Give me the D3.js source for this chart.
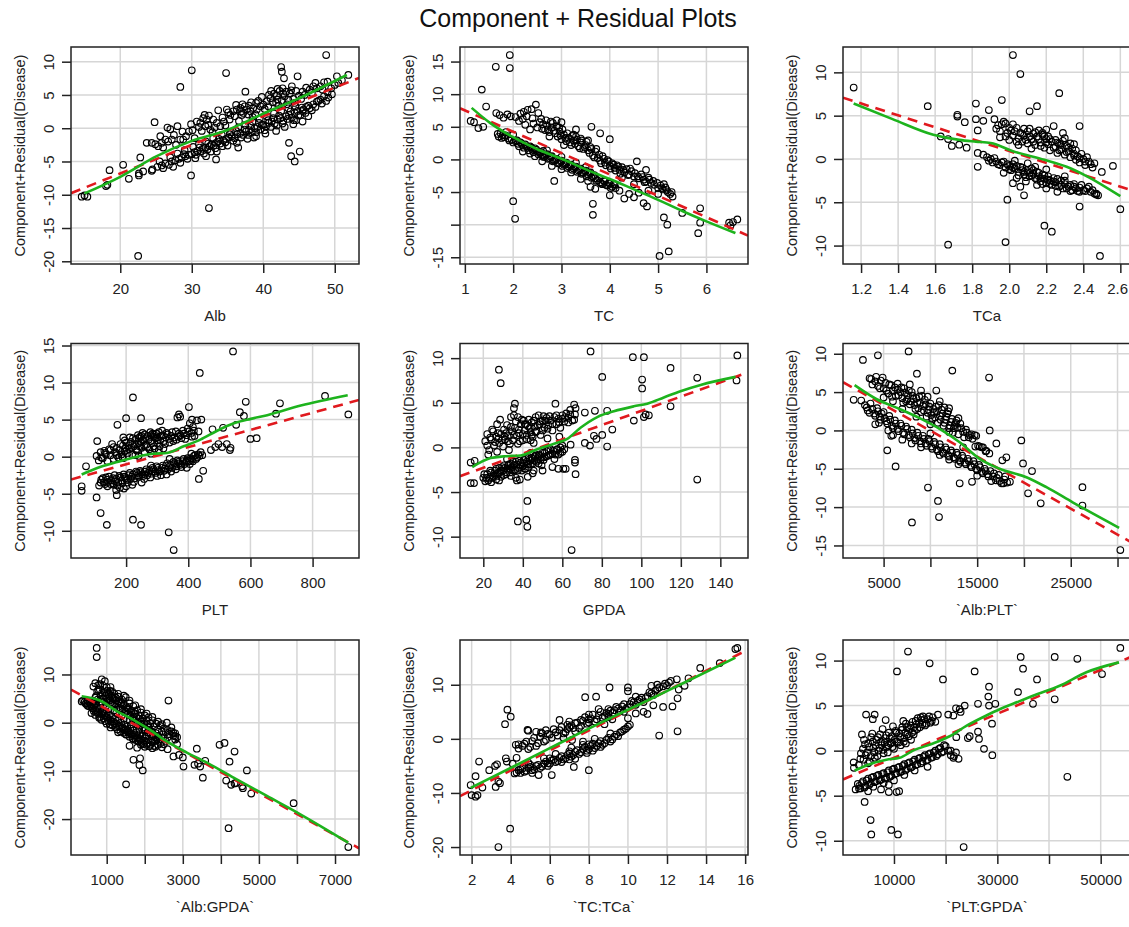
<!DOCTYPE html>
<html><head><meta charset="utf-8">
<script src="https://cdn.jsdelivr.net/npm/d3@7/dist/d3.min.js"></script>
<style>body{margin:0;background:#fff}svg{display:block}text{font-family:"Liberation Sans",Arial,sans-serif;fill:#222}</style>
</head><body>
<svg id="c" width="1129" height="927"></svg>
<script>
// ---------------- DATA ----------------
const titles = ["Alb","TC","TCa","PLT","GPDA","`Alb:PLT`","`Alb:GPDA`","`TC:TCa`","`PLT:GPDA`"];

const albPts = [[14.6,-10.3],[15.0,-10.1],[15.4,-10.3],[18.0,-8.7],[18.2,-8.5],[18.5,-6.3],[20.4,-5.5],[21.2,-7.6],[22.6,-7.1],[22.6,-6.8],[23.2,-6.5],[22.8,-4.4],[22.5,-19.2],[23.7,-2.2],[24.8,0.9],[24.4,-6.4],[28.4,6.2],[30.0,8.7],[34.8,8.3],[29.9,-7.1],[32.4,-12.0],[33.4,-4.7],[43.6,-2.2],[43.9,-4.2],[44.4,-5.0],[45.1,-3.5],[42.5,9.2],[42.6,8.5],[42.9,7.5],[44.8,7.8],[48.8,11.0],[51.9,8.0],[50.3,7.8],[49.1,4.6],[47.7,4.1],[46.3,3.4],[37.5,5.5],[34.9,2.8],[33.7,2.7],
[24.4,-2.2],[24.9,-2.4],[25.3,-2.7],[25.8,-2.2],[26.3,-1.7],[26.7,-2.0],[27.2,-1.7],[26.6,0.1],[27.0,-0.15],[27.8,-2.5],[28.4,-1.7],[28.7,-0.5],[28.8,-1.7],
[30.7,1.0],[31.2,0.8],[31.6,1.5],[31.9,0.3],[32.1,1.3],[32.3,0.5],[32.6,-0.2],[33.0,1.3],[33.5,0.8],[34.0,0.3],
[35.8,2.55],[36.3,2.8],[36.8,3.05],[37.2,2.3],[37.7,2.8],[37.9,2.05],[38.2,2.55],[38.6,3.05],[39.1,2.8],[39.6,3.3],[40.0,3.55],[40.5,4.06],
[41.0,4.5],[41.5,5.2],[41.8,3.8],[42.0,4.3],[42.3,5.6],[42.6,4.1],[43.0,4.8],[43.3,3.6],[43.7,5.2],[44.2,4.4],[44.6,5.6],[45.0,4.9],[45.5,5.5],[46.0,6.1],[46.5,5.8],[47.0,6.3],[47.5,6.0],[48.0,6.3],[48.5,6.9],[49.0,7.0],
[29.6,-0.5],[30.1,-0.3],[31.0,0.2],[32.9,-0.6],[34.5,1.0],[35.3,1.3],[36.0,1.8],[37.0,2.0],[38.5,1.7],[39.0,3.8],[39.8,4.7],[40.8,5.0],[42.0,5.9],[43.2,5.5],[44.0,6.3],[35.4,2.0],[36.2,3.5],[37.4,3.3],
[25.6,-1.2],[26.0,-2.9],[27.5,-1.0],[28.0,0.3],[29.2,-1.2],[29.9,0.6],[30.4,-1.5],[31.4,-0.4],[31.8,2.0],[32.4,1.9],[33.2,0.1],[34.3,1.6],[34.7,0.4],[35.1,2.4],[36.6,1.1],[37.1,3.6],[38.0,3.4],[38.9,2.1],[39.3,4.1],[40.2,2.9],[40.7,3.3],[41.3,3.9],[41.9,4.9],[42.2,3.4],[42.8,5.2],[43.5,4.3],[43.9,5.7],[44.4,3.8],[45.3,4.4],[45.8,5.0],[46.8,5.3],[47.3,6.8],[48.3,5.8],[36.9,2.5],[38.3,3.9],[41.1,5.6],[42.7,6.0],
[24.5,-6.2],[25.2,-5.8],[25.8,-5.6],[26.3,-5.3],[26.8,-5.5],[27.2,-5.0],[27.7,-4.8],[28.2,-4.6],[28.6,-4.4],[29.1,-4.2],[29.6,-4.0],[30.0,-3.9],[30.4,-3.6],[30.8,-3.4],[31.2,-3.5],[31.5,-3.1],[31.9,-2.9],[32.2,-3.2],[32.5,-2.7],[32.8,-2.4],[33.1,-2.6],[33.4,-2.2],[33.7,-2.0],[34.0,-2.3],[34.4,-1.8],[34.8,-1.6],[35.2,-1.4],[35.6,-1.2],[36.0,-1.5],[36.4,-0.9],[36.8,-0.7],[37.2,-1.0],[37.6,-0.5],[38.0,-0.3],[38.4,-0.6],[38.8,0.0],[39.2,0.2],[39.6,-0.2],[40.0,0.5],[40.4,0.3],[40.8,0.8],[41.2,1.0],[41.6,0.7],[42.0,1.3],[42.4,1.5],[42.8,1.1],[43.2,1.8],[43.6,2.0],[44.0,1.6],[44.4,2.3],[44.8,2.6],[45.2,2.0],[45.6,2.8],[46.0,3.2],[46.5,3.0],[47.0,3.6],[47.5,4.0],[48.0,4.3],[48.5,4.8],[49.0,5.4],[49.5,6.0],[50.0,6.5],[50.5,6.8],[51.0,7.2],
[28.0,-3.8],[29.0,-3.3],[30.2,-2.8],[31.0,-2.4],[32.0,-2.0],[33.0,-1.5],[34.2,-1.0],[35.5,-0.6],[36.5,0.1],[37.5,0.5],[38.5,1.0],[39.5,1.4],[40.5,1.8],[41.5,2.2],[42.5,2.6],[43.5,3.0],[44.5,3.3],[30.5,-4.5],[32.0,-4.2],[33.5,-3.5],[35.0,-2.6],[36.3,-2.2],[37.8,-1.6],[39.0,-1.2],[40.3,-0.8],[41.8,-0.4],[43.0,0.2],[44.2,0.6],[45.5,1.0],[36.5,-2.9],[38.7,-1.4],[44.6,1.2],[45.5,2.6],[46.3,1.8],
[25.5,-5.0],[26.0,-6.0],[27.0,-4.4],[27.4,-5.8],[28.4,-5.2],[28.9,-3.9],[29.4,-4.6],[30.6,-4.0],[31.1,-2.9],[31.7,-3.8],[32.3,-2.3],[32.7,-3.5],[33.3,-3.0],[33.8,-1.6],[34.3,-2.7],[34.7,-2.1],[35.3,-0.9],[35.8,-1.9],[36.2,-0.4],[36.9,-1.4],[37.4,-0.2],[37.9,-1.0],[38.2,0.4],[39.0,-0.6],[39.4,0.8],[39.8,0.5],[40.2,-0.3],[40.7,1.2],[41.1,0.2],[41.4,1.5],[41.9,0.4],[42.2,1.9],[42.7,0.7],[43.4,1.4],[43.8,2.5],[44.3,1.2],[44.9,1.9],[45.4,3.1],[45.9,2.3],[46.8,2.7],[47.3,3.2],[48.2,3.7],[48.8,4.1],[49.6,5.1]];

const tcPts = [[1.64,14.2],[1.93,16.0],[1.93,14.0],[1.35,10.7],[1.44,8.1],[1.12,5.9],[1.19,5.7],[1.28,4.8],[1.38,5.0],[2.0,-6.4],[2.04,-9.1],[2.85,-3.3],[3.65,-6.8],[3.65,-8.5],[3.62,5.0],[3.8,4.0],[4.0,3.1],[4.56,-0.3],[4.75,-1.6],[4.77,-7.2],[5.03,-14.8],[5.22,-14.1],[5.12,-8.9],[5.19,-10.0],[5.5,-8.2],[5.87,-9.7],[5.83,-11.3],[5.87,-7.5],[6.47,-9.7],[6.64,-9.2],[6.5,-10.1],[6.55,-9.6],
[1.65,7.1],[1.72,6.8],[1.8,6.4],[1.88,6.9],[1.95,6.6],[2.05,6.5],[2.15,7.0],[2.22,7.3],[2.3,7.6],[2.38,7.7],[2.47,8.4],[2.2,6.2],[2.25,5.3],[2.35,4.6],[2.42,5.5],[2.5,4.9],[2.55,5.7],[2.58,6.2],[2.62,5.4],[2.66,4.5],[2.7,5.2],[2.75,4.2],[2.8,4.9],[2.82,5.6],[2.87,4.0],[2.92,3.5],[2.96,4.3],[3.0,3.1],[3.05,3.8],[3.1,2.8],[3.15,3.3],[3.2,2.2],[3.25,2.9],[3.3,3.5],[3.35,2.0],[3.4,2.6],[3.45,1.6],[3.5,2.2],[3.55,1.4],[3.6,1.9],[3.65,0.6],[3.7,1.2],[3.75,0.2],[3.8,-0.2],[3.85,0.5],[3.9,-0.5],[3.95,-0.1],[4.0,-1.0],[4.05,-0.6],[4.1,-1.3],[4.15,-0.9],[4.2,-1.6],[4.25,-1.2],[4.3,-2.0],[4.35,-1.5],[4.4,-2.3],[4.45,-1.8],[4.5,-2.6],[4.6,-2.9],[4.65,-2.3],[4.7,-3.1],[4.75,-3.4],[4.8,-2.8],[4.85,-3.6],[4.9,-3.3],[5.0,-4.4],[5.05,-4.0],[5.1,-4.6],[5.15,-4.3],[5.2,-5.0],[5.25,-5.3],[5.3,-5.7],[3.3,4.6],[3.0,5.7],[2.9,6.0],[2.75,3.5],[3.05,2.2],[3.4,3.2],
[2.12,5.9],[2.28,6.6],[2.4,6.3],[2.52,7.1],[2.6,4.7],[2.68,6.0],[2.72,4.6],[2.78,5.8],[2.85,4.4],[2.9,5.1],[2.98,3.7],[3.02,4.6],[3.08,3.3],[3.12,4.0],[3.18,2.6],[3.22,3.6],[3.28,2.4],[3.32,3.0],[3.38,1.7],[3.42,2.9],[3.48,1.9],[3.52,2.7],[3.58,1.0],[3.62,1.6],[3.68,0.3],[3.72,1.6],[3.78,0.7],[3.82,-0.6],[3.88,0.1],[3.92,-0.9],[3.98,-0.3],[4.02,-1.4],[4.08,-0.8],[4.12,-1.7],[4.18,-1.1],[4.22,-2.2],[4.28,-1.6],[4.38,-2.4],[4.42,-1.4],[4.52,-2.1],[4.58,-2.6],[4.68,-2.7],[4.72,-3.5],[4.82,-3.1],[4.92,-3.9],[4.98,-3.6],[5.08,-4.4],[5.12,-3.8],[5.18,-4.7],[5.28,-5.0],[3.55,2.9],[3.25,3.8],[2.95,4.9],
[1.68,3.9],[1.74,4.0],[1.78,3.7],[1.82,3.4],[1.9,3.2],[1.97,3.0],[2.05,2.8],[2.1,2.4],[2.15,2.6],[2.2,2.1],[2.25,2.3],[2.3,1.8],[2.35,2.0],[2.4,1.5],[2.45,1.7],[2.5,1.2],[2.55,1.0],[2.6,0.7],[2.62,1.3],[2.65,0.4],[2.7,0.8],[2.75,0.2],[2.8,0.5],[2.85,-0.2],[2.9,0.1],[2.95,-0.5],[3.0,-0.2],[3.05,-0.8],[3.1,-0.5],[3.15,-1.1],[3.2,-0.8],[3.25,-1.4],[3.3,-1.1],[3.35,-1.7],[3.4,-1.4],[3.45,-2.0],[3.5,-1.7],[3.55,-2.3],[3.6,-2.0],[3.65,-2.6],[3.7,-2.9],[3.75,-3.2],[3.8,-3.5],[3.85,-3.8],[3.9,-3.4],[3.95,-4.0],[4.0,-3.7],[4.05,-4.2],[4.1,-3.9],[3.6,-4.2],[3.7,-4.5],[4.0,-5.5],[4.2,-4.8],[4.4,-5.3],[4.5,-5.8],[4.6,-5.1],[4.7,-6.7],[4.3,-6.0],[2.45,0.5],[2.6,-0.3],[2.8,-1.0],[3.0,-1.5],[3.2,-2.0],[3.4,-3.0],[3.55,-3.3],[2.2,1.2],[2.35,0.9],[1.85,4.2],[2.0,3.8],[4.25,-2.8],[4.5,-3.8],[4.8,-4.8],[5.0,-5.3],
[1.7,3.5],[1.76,3.3],[1.84,3.7],[1.92,2.9],[2.0,2.6],[2.08,2.9],[2.12,2.0],[2.18,2.4],[2.22,1.8],[2.28,2.0],[2.32,1.4],[2.38,1.8],[2.42,1.1],[2.48,1.5],[2.52,0.8],[2.58,1.1],[2.62,0.4],[2.68,0.7],[2.72,0.1],[2.78,0.4],[2.82,-0.3],[2.88,0.0],[2.92,-0.6],[2.98,-0.3],[3.02,-1.0],[3.08,-0.7],[3.12,-1.3],[3.18,-0.9],[3.22,-1.6],[3.28,-1.2],[3.32,-1.9],[3.38,-1.6],[3.42,-2.2],[3.48,-1.8],[3.52,-2.6],[3.58,-2.1],[3.62,-2.8],[3.68,-2.4],[3.72,-3.3],[3.78,-2.9],[3.82,-3.7],[3.88,-3.3],[3.92,-3.9],[3.98,-3.6],[4.02,-4.4],[4.08,-3.8],[4.12,-4.4],[3.5,-1.2],[3.3,-0.5],[3.0,0.4],[2.7,1.4]];

const tcaPts = [[1.16,8.25],[1.56,6.1],[1.63,2.6],[1.67,2.3],[1.69,1.5],[1.72,4.9],[1.72,5.1],[1.76,4.25],[1.73,1.65],[1.77,1.3],[1.67,-9.9],[1.82,6.4],[1.82,4.6],[1.83,3.3],[1.83,0.7],[1.83,-0.9],[1.86,4.4],[1.89,5.65],[1.96,6.8],[2.02,12.0],[2.06,9.8],[1.98,-9.6],[1.99,-4.7],[2.02,-2.8],[2.08,-4.2],[2.11,5.5],[2.15,6.1],[2.19,-7.7],[2.23,-8.4],[2.27,7.6],[2.38,-5.5],[2.38,3.8],[2.49,-11.2],[2.5,-1.5],[2.56,-0.8],[2.6,-5.8],[2.47,-4.0],[2.48,-4.2],[1.98,4.1],[2.02,4.0],[2.2,3.4],[2.24,3.8],[2.29,3.0],
[1.92,4.6],[1.94,3.9],[1.95,3.2],[1.97,4.3],[1.99,3.0],[2.0,3.6],[2.02,2.7],[2.03,3.2],[2.05,2.4],[2.06,3.0],[2.07,2.0],[2.08,2.7],[2.1,1.8],[2.1,3.2],[2.12,2.3],[2.13,2.9],[2.14,1.6],[2.15,2.6],[2.17,1.9],[2.18,2.8],[2.19,1.3],[2.2,2.3],[2.21,1.7],[2.22,1.0],[2.23,2.0],[2.25,1.4],[2.26,0.7],[2.27,1.8],[2.28,1.1],[2.3,0.5],[2.31,1.5],[2.32,0.9],[2.33,0.2],[2.34,1.2],[2.35,0.6],[2.36,-0.1],[2.37,0.3],[2.38,-0.4],[2.4,0.0],[2.41,-0.7],[2.43,-0.3],[2.45,-1.0],[2.46,-0.5],[1.95,2.5],[2.0,2.2],[2.05,1.6],[2.08,3.5],[2.16,3.3],[2.3,2.4],[2.35,1.7],[2.12,1.2],
[1.93,3.5],[1.96,4.0],[1.98,2.6],[2.01,3.3],[2.04,3.6],[2.04,2.0],[2.07,2.9],[2.09,2.2],[2.11,2.6],[2.11,3.5],[2.13,2.0],[2.14,3.1],[2.16,2.3],[2.17,1.5],[2.19,2.6],[2.2,1.9],[2.22,2.3],[2.24,1.3],[2.25,2.2],[2.27,1.0],[2.28,1.6],[2.29,2.1],[2.31,0.8],[2.32,1.3],[2.33,1.8],[2.35,0.4],[2.36,1.0],[2.38,0.1],[2.39,0.6],[2.41,-0.3],[2.42,0.2],[2.44,-0.6],[2.18,3.0],[2.21,2.6],[2.26,1.9],
[1.86,0.5],[1.88,0.2],[1.9,0.0],[1.91,-0.4],[1.93,-0.3],[1.95,-0.7],[1.96,-0.4],[1.98,-1.0],[2.0,-0.8],[2.01,-1.3],[2.02,-0.6],[2.03,-1.1],[2.05,-1.5],[2.06,-0.9],[2.07,-1.3],[2.08,-1.8],[2.1,-1.4],[2.11,-2.0],[2.12,-1.1],[2.13,-1.7],[2.14,-2.2],[2.15,-1.5],[2.16,-2.0],[2.17,-2.6],[2.18,-1.8],[2.19,-2.3],[2.2,-2.8],[2.21,-2.0],[2.22,-2.5],[2.23,-3.0],[2.24,-2.2],[2.25,-2.7],[2.27,-3.2],[2.28,-2.5],[2.3,-2.9],[2.31,-3.4],[2.33,-3.0],[2.34,-3.6],[2.35,-3.2],[2.37,-3.7],[2.38,-3.3],[2.4,-3.6],[2.42,-3.4],[2.44,-3.8],[2.46,-4.0],[1.97,-1.6],[2.04,-2.2],[2.09,-2.6],[2.15,-3.0],[2.2,-3.4],[2.26,-3.8],[2.06,-3.2],[2.1,-0.5],[2.2,-1.2],[2.3,-2.0],
[1.89,-0.2],[1.92,0.1],[1.94,-0.6],[1.97,-0.3],[1.99,-0.6],[2.0,-1.2],[2.02,-1.0],[2.04,-0.8],[2.05,-1.9],[2.07,-1.0],[2.08,-1.5],[2.09,-2.1],[2.11,-1.6],[2.12,-1.9],[2.13,-1.3],[2.15,-2.4],[2.16,-1.6],[2.17,-2.2],[2.18,-2.9],[2.19,-1.9],[2.21,-2.4],[2.22,-2.9],[2.24,-2.6],[2.25,-3.1],[2.26,-2.3],[2.28,-3.0],[2.29,-3.4],[2.3,-2.5],[2.32,-3.2],[2.33,-3.7],[2.35,-2.9],[2.36,-3.4],[2.38,-3.8],[2.39,-3.0],[2.41,-3.7],[2.43,-3.2],[2.45,-3.6],[2.47,-4.1],[2.03,-0.2],[2.14,-0.9]];

const pltPts = [[57,-4.0],[57,-4.6],[71,-1.3],[105,-5.5],[107,2.1],[118,-7.6],[138,-9.2],[172,4.3],[170,-5.2],[168,-4.5],[200,5.2],[193,-4.3],[191,2.6],[222,8.0],[222,-8.5],[248,5.2],[248,-9.2],[337,-10.2],[353,-12.6],[310,4.8],[374,5.4],[402,6.7],[437,11.3],[544,14.2],[412,5.0],[442,5.0],[434,-3.0],[448,-1.9],[412,2.7],[478,3.7],[512,3.9],[536,1.2],[534,0.9],[554,4.3],[566,6.0],[579,5.5],[585,7.4],[600,2.4],[620,2.5],[695,7.2],[682,5.8],[840,8.2],[915,5.7],[473,0.9],[487,1.3],[497,1.7],[509,1.3],[524,1.7],
[105,0.1],[112,-0.5],[118,0.6],[125,-0.2],[130,0.8],[135,0.3],[140,-0.6],[145,1.0],[150,0.2],[155,1.7],[160,-0.3],[165,0.6],[170,1.2],[175,-0.1],[180,0.9],[185,0.3],[190,1.5],[195,0.7],[198,1.2],[205,0.5],[210,1.0],[215,2.0],[220,0.3],[225,1.4],[230,2.3],[235,0.8],[240,1.8],[245,2.7],[250,1.2],[255,2.2],[260,0.6],[265,1.6],[270,2.8],[275,1.0],[280,2.1],[285,3.1],[290,1.4],[295,2.5],[300,1.8],[305,3.3],[310,2.2],[318,2.9],[325,1.7],[330,3.2],[338,2.4],[345,2.8],[352,2.1],[360,3.4],[368,2.7],[375,2.9],[383,3.5],[390,2.4],[398,3.8],[405,4.5],[410,3.2],[415,4.0],[420,2.8],[428,4.9],[433,3.4],[250,2.8],[240,2.5],[260,3.0],[280,2.9],[300,2.6],[200,1.9],[230,0.2],[280,0.4],[305,0.9],[240,0.1],[190,-0.2],[365,5.3],[370,5.7],[290,3.0],[320,1.1],
[182,1.7],[188,0.0],[196,2.2],[202,0.9],[208,1.5],[212,2.6],[218,1.2],[222,2.5],[228,1.7],[233,1.0],[238,2.9],[243,1.4],[248,2.0],[253,3.2],[258,1.5],[262,2.5],[268,1.3],[272,2.3],[278,3.3],[283,1.8],[288,2.7],[292,1.1],[298,3.1],[302,2.2],[308,1.4],[312,2.8],[316,3.5],[322,2.1],[328,2.6],[334,3.0],[340,1.9],[348,3.3],[355,2.6],[362,2.3],[370,3.1],[378,2.5],[386,3.1],[394,2.9],[402,3.4],[418,3.5],[150,0.9],[160,1.3],[170,0.2],[120,-0.1],[133,0.5],
[113,-3.9],[120,-3.1],[128,-3.5],[135,-2.8],[142,-3.4],[150,-3.7],[158,-2.9],[165,-3.3],[172,-3.9],[178,-2.6],[185,-3.2],[192,-2.4],[198,-2.9],[205,-3.5],[212,-2.2],[218,-2.7],[225,-3.4],[232,-2.0],[238,-2.5],[245,-1.9],[252,-2.4],[258,-3.0],[265,-1.7],[272,-2.2],[278,-2.8],[285,-1.5],[292,-2.0],[298,-1.3],[305,-1.8],[312,-2.5],[318,-1.2],[325,-1.6],[332,-0.9],[338,-1.4],[345,-2.0],[352,-0.7],[358,-1.1],[365,-0.5],[372,-0.9],[378,-1.4],[385,-0.3],[392,-0.7],[398,-0.2],[405,-1.0],[412,-0.4],[418,0.1],[425,-0.3],[432,0.3],[440,0.6],[445,0.2],[180,-4.2],[200,-4.0],[220,-3.8],[260,-2.0],[300,-2.6],[340,-0.3],[360,-1.7],[395,-1.5],[410,0.4],[140,-4.0],[160,-3.8],[250,-3.5],[280,-1.2],[330,-2.4],
[118,-3.5],[125,-2.9],[132,-3.7],[138,-3.1],[145,-2.7],[152,-3.2],[158,-3.6],[163,-2.5],[168,-3.0],[175,-3.5],[182,-2.8],[188,-3.6],[195,-2.7],[202,-3.1],[208,-2.5],[215,-3.0],[222,-2.4],[228,-2.9],[235,-2.2],[242,-2.7],[248,-2.1],[255,-2.6],[262,-2.0],[268,-2.5],[275,-1.8],[282,-2.3],[288,-1.7],[295,-2.2],[302,-1.5],[308,-2.0],[315,-1.5],[322,-1.9],[328,-1.2],[335,-1.7],[342,-1.1],[348,-1.5],[355,-0.9],[362,-1.3],[368,-0.7],[375,-1.1],[382,-0.6],[388,-1.0],[395,-0.5],[402,-0.6],[408,-0.2],[415,-0.6],[422,0.2],[428,-0.1],[436,0.1]];

const gpdaPts = [[13.6,-1.7],[15.6,-1.5],[13.6,-4.0],[15.3,-4.0],[27.9,8.7],[28.8,7.2],[35.5,4.4],[37.5,-8.3],[41.8,-8.1],[42.3,-8.9],[42.3,-6.0],[64.7,-11.5],[74.3,10.75],[80.2,7.9],[82.7,4.1],[82.7,0.1],[85.3,2.0],[95.7,10.1],[101.3,10.1],[100.4,7.6],[100.4,6.6],[96.2,3.0],[101.3,3.4],[102.2,3.7],[103.8,3.6],[114.8,8.9],[114.8,4.6],[128.3,7.8],[128.3,-3.6],[148.6,10.3],[148.2,7.5],[71.4,3.9],[76.5,4.1],[71.4,0.5],[74,0.2],[76,1.3],[77.3,0.95],[80.2,1.4],[66.7,4.4],[66.4,3.7],[65,3.0],[66.4,-1.4],[66.4,-1.7],[66.7,-3.0],[61.7,-2.4],[60.5,-2.4],[64.2,0.3],
[21,0.7],[22,1.5],[23,-0.3],[24,0.9],[25,1.8],[25.5,0.2],[26.5,1.2],[27,2.6],[28,0.5],[28.5,3.1],[29,1.5],[30,0.1],[30.5,2.0],[31,0.9],[32,2.5],[33,1.3],[33.5,0.4],[34,3.4],[34.5,1.8],[35,0.8],[36,2.2],[36,4.9],[37,1.3],[37.5,3.4],[38,2.0],[38.5,0.7],[39,2.6],[40,1.5],[40.5,3.0],[41,1.9],[42,0.9],[42.5,2.4],[43,3.1],[44,1.7],[44.5,2.8],[45,1.2],[46,2.3],[46.5,3.4],[47,1.8],[48,3.6],[48.5,2.6],[49,1.4],[50,3.0],[50.5,3.5],[51,2.2],[52,3.3],[53,2.5],[54,3.0],[55,1.9],[56,3.4],[56.5,4.9],[57,2.6],[58,3.2],[59,2.2],[60,3.6],[61,2.9],[62,3.8],[63,3.3],[64,4.2],[66,4.8],[66,3.1],[52.5,1.0],[45.5,0.5],[33,-0.3],[27,-0.5],[22.5,-0.8],[35.5,3.6],[41.5,2.6],[44,0.8],[58.5,1.2],
[22,0.2],[23.5,1.1],[24.5,2.0],[26,0.6],[27.5,1.6],[29.5,0.8],[31.5,1.6],[32.5,0.7],[34,2.3],[35.5,1.4],[36.5,2.9],[37.5,0.4],[38,1.6],[39.5,3.1],[40,0.8],[41,2.6],[42,1.4],[43.5,2.2],[44.5,1.4],[45.5,3.0],[46.5,1.7],[47.5,2.5],[49,2.9],[50,1.9],[51.5,3.0],[52.5,2.1],[53.5,3.5],[55,2.6],[57,3.6],[58.5,2.8],[60,3.2],[61.5,3.4],[63,2.8],[64,3.7],[30.8,1.2],[27.8,1.0],
[20,-3.4],[21,-3.8],[22,-3.0],[23,-3.5],[24,-2.8],[25,-3.2],[26,-2.6],[26.5,-3.6],[27.5,-2.9],[28,-2.3],[29,-3.3],[30,-2.6],[30.5,-2.0],[31.5,-3.0],[32,-2.4],[33,-1.9],[33.5,-2.8],[34.5,-2.2],[35,-1.6],[36,-2.5],[36.5,-3.4],[37,-1.9],[38,-2.3],[38.5,-3.6],[39,-1.7],[40,-2.1],[40.5,-1.4],[41.5,-2.4],[42,-1.6],[42.5,-3.3],[43,-1.1],[44,-1.9],[45,-1.3],[45.5,-2.6],[46,-1.0],[47,-1.6],[48,-0.8],[49,-1.4],[49.5,-2.0],[50,-0.6],[51,-1.1],[52,-0.4],[53,-0.9],[54,-0.2],[55,-0.7],[56,-1.3],[57,-0.3],[58,-0.8],[59,0.0],[60,-0.5],[61,-0.2],[55,-2.2],[58,-2.4],[37,-3.7],[24,-3.9],[28,-3.7],[34,-3.2],[45,-2.9],[50,-2.6],[32,-1.3],[44,-0.6],
[20.5,-3.0],[21.5,-3.4],[22.5,-3.7],[23.5,-2.6],[24.5,-3.4],[25.5,-2.9],[26.5,-2.4],[27,-3.2],[28,-2.8],[29,-2.6],[29.5,-2.2],[30.5,-3.1],[31,-2.3],[32,-2.8],[32.5,-2.0],[33.5,-2.4],[34,-1.8],[35,-2.6],[35.5,-2.0],[36.5,-1.6],[37.5,-2.6],[38,-1.5],[39,-2.2],[39.5,-2.6],[40.5,-1.8],[41,-2.4],[41.5,-1.3],[42.5,-1.9],[43,-2.2],[43.5,-1.5],[44.5,-1.2],[45,-1.8],[46,-1.5],[46.5,-0.9],[47.5,-1.3],[48,-1.8],[48.5,-0.9],[49.5,-1.1],[50.5,-1.4],[51,-0.6],[52,-1.0],[53,-0.3],[54,-0.8],[55.5,-0.4],[56.5,-0.8],[57.5,-0.2],[59,-0.6],[60,0.2]];

const albPltPts = [[1800,4.0],[2610,3.9],[2790,9.2],[4390,9.8],[3680,6.7],[4110,0.8],[5390,-2.6],[5820,-0.7],[6280,-4.7],[7670,10.3],[8560,7.4],[8030,-12.0],[9740,-7.45],[10810,-9.2],[10920,-11.3],[10630,5.2],[12340,7.8],[16270,6.9],[16340,0.0],[17050,-1.7],[18120,-3.5],[17690,-3.9],[19720,-1.3],[19900,-4.3],[20860,-5.3],[20440,-8.2],[21790,-9.5],[26250,-7.4],[26250,-9.8],[30300,-15.6],[13130,-6.9],[14450,-6.7],[15270,-2.1],[15620,-2.2],[15980,-2.65],[14730,-0.6],[14900,-0.7],
[3500,6.8],[3800,6.0],[4200,7.0],[4400,5.8],[4700,6.5],[5000,5.5],[5200,6.2],[5500,4.8],[5800,5.9],[6000,5.2],[6300,4.5],[6500,6.1],[6800,5.0],[7000,4.2],[7200,5.5],[7400,3.8],[7600,4.6],[7800,3.4],[8000,5.0],[8200,4.1],[8400,2.8],[8600,3.6],[8800,4.4],[9000,2.4],[9200,3.2],[9400,4.0],[9600,1.8],[9800,2.7],[10000,3.5],[10200,1.5],[10400,2.3],[10600,3.1],[10800,1.0],[11000,1.9],[11200,2.7],[11400,0.6],[11600,1.4],[11800,2.2],[12000,0.3],[12200,1.1],[12400,-0.3],[12600,0.7],[12800,1.3],[13000,-0.5],[13300,0.3],[13600,-0.9],[13900,-0.3],[14200,-0.6],[14500,-1.1],[14800,-2.1],[15100,-2.0],[15500,-2.2],[15900,-2.7],[16300,-3.0],[6000,3.8],[7000,2.8],[8500,1.8],[10000,0.8],[5000,4.3],[9000,5.2],[11000,3.8],[12000,2.9],[13000,1.6],[6500,5.3],[7800,6.0],[9700,4.4],[11500,3.0],
[4100,6.4],[4600,5.5],[4900,6.9],[5300,5.2],[5600,6.0],[5900,4.4],[6200,5.6],[6600,4.6],[6900,5.6],[7100,3.6],[7300,4.9],[7500,4.0],[7700,5.2],[7900,3.8],[8100,4.5],[8300,3.3],[8500,4.2],[8700,2.9],[8900,3.6],[9100,4.5],[9300,2.6],[9500,3.4],[9700,2.3],[9900,3.1],[10100,2.0],[10300,2.8],[10500,1.7],[10700,2.5],[10900,3.3],[11100,1.4],[11300,2.2],[11500,1.0],[11700,1.8],[11900,2.5],[12100,0.6],[12300,1.5],[12500,0.3],[12700,1.0],[12900,0.4],[13200,0.9],[13500,-0.2],[13800,0.1],[14100,-0.9],[14400,-0.5],[12000,-0.2],
[3000,3.3],[3300,2.6],[3600,3.5],[4000,2.2],[4300,2.9],[4600,1.8],[5000,2.4],[5300,1.2],[5600,1.9],[5900,0.6],[6200,1.3],[6500,0.2],[6800,0.9],[7100,-0.3],[7400,0.5],[7700,-0.6],[8000,0.1],[8300,-1.0],[8600,-0.3],[8900,-1.4],[9200,-0.7],[9500,-1.7],[9800,-1.1],[10100,-2.1],[10400,-1.5],[10700,-2.5],[11000,-1.8],[11300,-2.8],[11600,-2.2],[11900,-3.2],[12200,-2.6],[12500,-3.5],[12800,-2.9],[13100,-3.9],[13400,-3.3],[13700,-4.2],[14000,-3.7],[14300,-4.6],[14600,-4.0],[14900,-5.0],[15200,-4.5],[15500,-5.4],[15800,-5.0],[16100,-5.7],[16400,-5.3],[16700,-6.0],[17000,-6.5],[17300,-5.8],[17600,-6.9],[17900,-6.4],[18200,-6.8],[18500,-6.7],[7000,-1.2],[9000,-2.2],[11000,-3.2],[13000,-4.4],[6000,-0.6],[8000,-1.7],[12000,-3.8],[15000,-5.9],[4500,1.0],[10000,-0.4],[13500,-2.2],[16500,-6.6],[5500,0.0],
[3200,3.0],[3500,2.3],[3800,2.8],[4100,1.9],[4400,2.5],[4700,1.4],[4800,2.2],[5100,1.6],[5400,0.9],[5700,1.4],[6000,0.3],[6300,0.9],[6600,-0.1],[6900,0.6],[7200,-0.5],[7500,0.2],[7800,-0.9],[8100,-0.4],[8400,-1.3],[8700,-0.7],[9000,-1.7],[9300,-1.1],[9600,-2.0],[9900,-1.4],[10200,-2.4],[10500,-1.8],[10800,-2.7],[11100,-2.2],[11400,-3.0],[11700,-2.5],[12000,-3.4],[12300,-2.9],[12600,-3.7],[12900,-3.2],[13200,-4.1],[13500,-3.6],[13800,-4.4],[14100,-4.0],[14400,-4.8],[14700,-4.4],[15000,-5.2],[15300,-4.8],[15600,-5.6],[15900,-5.3],[16200,-6.0],[16800,-5.6],[17100,-6.2],[17400,-6.6],[17800,-6.9],[18000,-6.0]];

const albGpdaPts = [[737,15.5],[737,13.6],[342,4.4],[1509,-12.8],[1702,-7.7],[1877,-7.4],[1860,-8.8],[1947,-9.9],[2623,4.6],[2579,0.0],[2754,-7.0],[3000,-7.2],[3018,-9.1],[3368,-5.4],[3307,-8.75],[3456,-9.1],[3526,-11.4],[3588,-7.9],[3965,-4.6],[4096,-4.2],[4228,-8.1],[4360,-6.0],[4140,-12.0],[4272,-12.9],[4360,-12.6],[4202,-21.9],[4684,-9.9],[4579,-13.6],[4798,-14.7],[5912,-16.7],[7350,-25.8],[4400,-12.5],[4560,-13.2],[3400,-8.5],[2850,-4.5],[2900,-6.7],[2800,-3.5],
[380,4.6],[420,4.3],[460,3.9],[500,4.5],[540,3.4],[580,3.8],[620,3.0],[660,3.5],[700,2.6],[740,3.1],[780,2.2],[820,2.8],[860,1.8],[900,2.4],[940,1.4],[980,2.0],[1020,1.0],[1060,1.6],[1100,0.6],[1140,1.2],[1180,0.2],[1220,0.8],[1260,-0.2],[1300,0.4],[1340,-0.6],[1380,0.0],[1420,-1.0],[1460,-0.4],[1500,-1.4],[1540,-0.8],[1580,-1.8],[1620,-1.2],[1660,-2.2],[1700,-1.6],[1740,-2.6],[1780,-2.0],[1820,-3.0],[1860,-2.4],[1900,-3.4],[1940,-2.8],[1980,-3.8],[2020,-3.2],[2060,-4.2],[2100,-3.6],[2150,-4.6],[2200,-4.0],[2250,-4.8],[2300,-3.8],[1500,-2.4],[1700,-3.4],[1900,-4.6],[1600,-4.8],[1800,-5.2],[2000,-5.0],[1100,-1.0],[1300,-2.0],[800,1.0],[1000,-0.2],
[650,7.5],[700,8.2],[750,6.5],[780,7.8],[820,6.9],[870,9.0],[900,7.7],[950,6.3],[1000,7.4],[1050,5.9],[1100,6.6],[1150,5.2],[1200,6.0],[1250,4.6],[1300,5.4],[1350,4.0],[1400,4.8],[1450,3.5],[1500,5.3],[1550,3.0],[1600,4.0],[1650,2.5],[1700,3.4],[1750,1.9],[1800,2.6],[1850,1.4],[1900,2.1],[1950,0.9],[2000,1.5],[2050,0.4],[2100,1.1],[2150,-0.2],[2200,0.5],[2250,-0.8],[2300,-0.2],[2350,-1.4],[2400,-0.6],[2450,-1.8],[2500,-1.2],[2550,-2.0],[2600,-1.5],[2650,-2.4],[2700,-1.8],[2750,-2.7],[2800,-2.2],[2850,-3.0],[720,5.5],[900,5.0],[1100,4.2],[1300,3.2],[1500,2.2],[1700,1.2],[1900,0.2],[2100,-1.0],[2300,-2.2],[1000,3.6],[1200,2.6],[1400,1.6],[1600,0.6],[1800,-0.4],[2000,-1.6],[2200,-2.8],[2400,-3.5],[2500,-4.5],[2600,-5.5],[2550,-3.8],
[450,4.0],[500,3.5],[550,4.2],[600,3.3],[640,4.5],[680,3.9],[700,5.2],[720,4.1],[760,4.8],[800,3.7],[840,5.5],[860,4.4],[880,6.2],[920,4.9],[960,5.6],[990,4.3],[1020,6.6],[1040,5.0],[1080,4.6],[1120,5.6],[1160,3.8],[1180,4.9],[1220,4.0],[1240,5.2],[1280,3.7],[1320,4.4],[1360,3.0],[1380,4.1],[1420,2.8],[1440,3.8],[1480,2.4],[1520,3.2],[1560,1.8],[1580,2.8],[1620,1.5],[1640,2.2],[1680,0.9],[1720,1.8],[1760,0.4],[1780,1.2],[1820,0.0],[1840,0.8],[1880,-0.6],[1920,0.5],[1960,-1.0],[1980,-0.2],[2020,-1.4],[2060,-0.5],[2080,-2.0],[2120,-1.5],[2160,-2.4],[2180,-1.8],[2240,-2.6],[2280,-3.0],[2320,-3.4],[2360,-2.8],[2420,-4.2],[2480,-3.2],
[600,2.0],[660,2.4],[700,1.6],[760,2.0],[820,1.2],[860,0.6],[880,2.1],[920,0.9],[960,0.3],[1000,1.2],[1040,0.4],[1080,-0.4],[1120,0.2],[1160,-0.6],[1200,-0.2],[1240,-1.0],[1280,-1.4],[1320,-0.8],[1360,-1.8],[1400,-1.2],[1440,-2.1],[1480,-1.6],[1520,-2.5],[1560,-2.0],[1600,-2.9],[1640,-2.4],[1680,-3.3],[1720,-2.9],[1760,-3.6],[1800,-3.2],[1840,-3.9],[1880,-3.6],[1920,-4.2],[1960,-4.4],[2040,-4.6],[2120,-4.9],[2200,-5.3],[2280,-5.0],[2350,-4.6],[2450,-5.1],
[780,6.8],[830,8.0],[950,8.6],[1000,6.0],[1100,7.4],[1150,6.4],[1300,6.0],[1450,5.6],[1600,4.6],[1750,3.6],[1900,2.8],[2050,1.9],[2200,1.2],[2350,0.2],[2450,-0.3],[2700,-1.0],[2750,-2.1],[2800,-2.8],[2600,-3.0],[1050,2.8],[1250,2.0],[1450,0.8],[1650,-0.4],[1850,-1.4],[2050,-2.6],[2250,-3.8]];

const tcTcaPts = [[1.95,-8.55],[2.0,-10.4],[2.2,-10.7],[2.3,-10.4],[2.2,-6.9],[2.38,-4.2],[2.9,-5.8],[3.23,-8.9],[3.3,-4.7],[3.37,-7.9],[3.45,-8.2],[3.8,-4.2],[3.75,-3.6],[3.83,5.4],[4.0,4.1],[3.71,2.7],[3.97,-16.6],[3.37,-20.0],[4.86,1.65],[4.26,-1.1],[5.55,1.2],[7.81,7.7],[8.37,7.8],[9.06,9.5],[10.0,9.5],[10.0,8.8],[11.6,0.6],[12.28,6.0],[12.54,1.4],[12.54,7.5],[12.6,9.1],[12.9,9.8],[13.1,11.2],[13.7,13.1],[14.7,14.0],[15.5,16.6],[15.6,16.8],[5.43,-6.7],[7.23,-5.2],[8.0,-5.8],[7.14,-0.2],[7.69,-1.1],[8.8,2.7],[9.2,3.6],[10.0,3.8],[10.4,4.7],[10.8,5.0],[11.0,4.6],[11.3,6.2],[11.8,5.9],[12.5,11.0],[12.2,10.7],[11.5,10.0],[4.3,-3.5],[4.4,-1.0],[2.55,-9.0],[3.2,-5.0],[4.1,-4.6],
[4.6,-1.3],[4.8,-0.5],[5.0,-1.5],[5.2,0.2],[5.4,-0.8],[5.6,1.0],[5.8,-0.2],[6.0,0.8],[6.2,1.8],[6.4,0.6],[6.6,2.2],[6.8,1.2],[7.0,3.2],[7.2,2.0],[7.4,3.0],[7.6,2.4],[7.8,4.0],[8.0,3.0],[8.2,4.5],[8.4,3.6],[8.6,5.0],[8.8,4.2],[9.0,5.5],[9.2,4.8],[9.4,5.9],[9.6,5.2],[9.8,6.4],[10.0,5.8],[10.2,7.0],[10.4,6.3],[10.6,7.3],[10.8,6.8],[11.0,7.9],[11.2,8.4],[11.4,8.9],[11.6,9.5],[11.9,10.2],[12.1,10.4],[6.5,3.5],[7.3,1.4],[8.0,4.5],[9.0,4.0],[9.8,5.0],[5.8,1.6],[6.9,2.6],[4.4,-1.8],[4.9,1.5],[5.3,1.3],[6.7,0.2],[7.6,3.5],[8.5,5.5],[10.4,7.8],[11.2,9.8],
[4.7,-0.9],[4.9,-1.9],[5.1,-0.4],[5.3,-1.3],[5.5,0.4],[5.7,-0.5],[5.9,0.9],[6.1,0.2],[6.3,1.2],[6.5,1.6],[6.7,1.0],[6.9,1.8],[7.1,2.5],[7.3,2.9],[7.5,2.0],[7.7,3.3],[7.9,2.8],[8.1,3.8],[8.3,3.2],[8.5,4.3],[8.7,3.9],[8.9,4.8],[9.1,5.2],[9.3,5.3],[9.5,5.6],[9.7,6.0],[9.9,5.6],[10.1,6.4],[10.3,6.8],[10.5,7.0],[10.7,7.6],[10.9,7.5],[11.1,8.6],[11.3,8.1],[11.5,9.2],[11.8,9.7],[12.0,9.9],[7.0,2.2],[8.0,3.6],[9.0,4.6],
[4.2,-6.4],[4.4,-5.8],[4.5,-6.3],[4.6,-5.5],[4.8,-5.9],[5.0,-5.2],[5.2,-5.6],[5.4,-4.8],[5.6,-5.1],[5.8,-4.2],[6.0,-4.6],[6.2,-3.8],[6.4,-4.1],[6.6,-3.2],[6.8,-3.6],[7.0,-2.7],[7.2,-3.0],[7.4,-2.1],[7.6,-2.5],[7.8,-1.5],[8.0,-1.9],[8.2,-0.9],[8.4,-1.3],[8.6,-0.4],[8.8,-0.8],[9.0,0.2],[9.2,-0.1],[9.4,0.8],[9.6,1.2],[9.8,1.7],[10.0,2.3],[5.1,-6.3],[5.9,-5.0],[6.6,-4.3],[7.3,-3.7],[7.9,-2.6],[8.6,-1.5],[4.9,-4.4],[5.7,-3.6],[6.3,-2.8],[7.1,-1.6],[7.7,-0.5],[8.3,0.0],[9.1,1.0],[6.1,-6.7],[7.0,-3.8],[8.2,-2.2],
[4.3,-6.2],[4.5,-5.6],[4.7,-6.1],[4.9,-5.4],[5.1,-5.8],[5.3,-5.0],[5.5,-5.4],[5.7,-4.6],[5.9,-4.5],[6.1,-4.0],[6.3,-4.3],[6.5,-3.5],[6.7,-3.8],[6.9,-3.0],[7.1,-3.3],[7.3,-2.4],[7.5,-2.8],[7.7,-1.9],[7.9,-2.2],[8.1,-1.3],[8.3,-1.7],[8.5,-0.8],[8.7,-1.1],[8.9,-0.2],[9.1,-0.5],[9.3,0.4],[9.5,0.5],[9.7,1.4],[9.9,1.9],[10.1,2.6],[5.0,-4.8],[6.0,-3.6],[7.0,-2.3],[8.0,-1.0]];

const pltGpdaPts = [[2200,-1.3],[2250,-1.9],[2580,-4.3],[3230,-4.2],[4320,-5.7],[5480,-7.7],[5610,-9.3],[6260,4.0],[8390,3.4],[9480,-8.8],[10770,-9.3],[10580,8.8],[12710,11.0],[16900,9.7],[19480,7.9],[23480,-10.7],[25610,8.8],[26260,2.1],[26450,1.3],[24650,1.6],[27420,0.2],[29030,-0.5],[28390,7.1],[28260,6.0],[28390,5.0],[29610,5.2],[28970,3.0],[26260,5.2],[34520,10.4],[34970,9.1],[34000,6.5],[37680,7.9],[36900,5.2],[41100,10.4],[41100,5.7],[43550,-2.9],[45480,10.2],[50260,8.5],[53800,11.4],[22710,4.6],[22900,4.3],[23680,5.0],[22000,4.7],[20500,4.0],[21500,3.9],[22060,1.5],[24300,1.4],[20970,0.0],[21610,-0.6],[22500,-0.9],
[3500,-0.9],[4000,0.2],[4500,-0.5],[5000,0.8],[5300,-1.2],[5600,1.5],[6000,0.3],[6300,-0.8],[6600,1.2],[7000,0.0],[7300,1.8],[7600,0.6],[8000,-0.3],[8300,1.4],[8600,0.4],[9000,2.0],[9300,0.8],[9600,1.6],[10000,0.2],[10300,2.2],[10600,1.0],[11000,1.9],[11300,0.6],[11600,2.6],[12000,1.4],[12300,3.0],[12600,1.8],[13000,2.4],[13300,1.2],[13600,3.2],[14000,2.2],[14300,2.9],[14600,3.6],[15000,2.6],[15300,3.4],[15600,3.8],[16000,2.8],[16500,3.5],[17000,3.1],[17500,3.7],[18000,3.2],[18500,4.0],[3800,1.8],[4200,1.2],[5800,1.9],[7800,2.4],[9800,2.7],[11800,3.3],[6800,-0.6],[8800,-0.2],[3200,-1.6],[5000,-1.4],[9500,0.9],[13800,1.8],[12300,0.8],
[3600,-0.3],[4100,-1.0],[4400,0.7],[4800,-0.2],[5200,0.4],[5500,-0.6],[5900,1.0],[6200,-0.2],[6500,0.6],[6900,1.5],[7200,0.3],[7500,1.0],[7900,0.1],[8200,0.9],[8500,1.7],[8900,0.6],[9200,1.4],[9700,0.4],[10100,1.2],[10500,2.0],[10900,0.9],[11200,1.5],[11500,2.3],[11900,1.0],[12200,2.0],[12500,2.6],[12900,1.6],[13200,2.8],[13500,2.0],[13900,2.6],[14200,3.3],[14500,2.4],[14900,3.1],[15200,3.7],[15500,2.9],[15900,3.5],[16300,3.0],[16800,3.8],[17300,3.3],[4600,4.0],[5900,3.5],
[3000,-3.7],[3500,-4.2],[4000,-3.4],[4500,-3.9],[5000,-3.1],[5500,-3.6],[6000,-2.9],[6500,-3.4],[7000,-2.7],[7500,-3.2],[8000,-2.5],[8500,-3.0],[9000,-2.2],[9500,-2.8],[10000,-2.0],[10500,-2.5],[11000,-1.8],[11500,-2.3],[12000,-1.5],[12500,-2.0],[13000,-1.3],[13500,-1.8],[14000,-1.0],[14500,-1.5],[15000,-0.8],[15500,-1.2],[16000,-0.5],[16500,-1.0],[17000,-0.3],[17500,-0.7],[18000,0.0],[18500,-0.4],[19000,0.3],[19500,-0.1],[20000,0.5],[20500,0.0],[21000,-0.5],[21500,-0.8],[22000,-0.2],[6000,-4.0],[8000,-3.6],[10000,-3.3],[12000,-2.7],[11000,-4.5],[7500,-4.3],[9000,-3.8],[14000,-2.2],[16500,-1.8],
[3300,-3.9],[3800,-3.6],[4300,-4.1],[4700,-3.3],[5200,-3.8],[5700,-3.0],[6200,-3.5],[6700,-2.8],[7200,-3.3],[7700,-2.6],[8200,-3.1],[8700,-2.4],[9200,-2.9],[9700,-2.1],[10200,-2.6],[10700,-1.9],[11200,-2.4],[11700,-1.7],[12200,-2.2],[12700,-1.4],[13200,-1.9],[13700,-1.2],[14200,-1.6],[14700,-0.9],[15200,-1.4],[15700,-0.7],[16200,-1.1],[16700,-0.4],[17200,-0.8],[17700,-0.2],[18200,-0.6],[18700,0.2],[19200,-0.2],[19700,0.6],[5000,-4.5],[9000,-4.6],[10500,-4.6]];

// linear fit (red dashed): intercept, slope
const lmIntercept = [-15.4, 10.79, 14.65, -3.343, -3.878, 6.74, 7.13, -13.18, -3.232];
const lmSlope     = [0.43, -3.275, -6.867, 0.011588, 0.07973, -0.0006776, -0.004349, 1.839, 0.0002442];

// smooth (green)
const albSmooth = [[15,-9.8],[20,-7.3],[25.1,-4.2],[30,-1.9],[34.9,-0.3],[40,2.2],[45.2,4.6],[51.7,8.0]];
const tcSmooth = [[1.14,7.9],[1.52,5.6],[2.0,3.4],[2.49,1.6],[3.0,0.1],[3.53,-1.6],[4.0,-3.0],[4.5,-4.6],[5.0,-6.2],[5.5,-7.9],[6.0,-9.5],[6.6,-11.3]];
const tcaSmooth = [[1.16,6.4],[1.37,4.6],[1.59,2.8],[1.73,2.2],[1.82,2.0],[1.9,1.85],[2.02,0.9],[2.19,-0.1],[2.31,-0.9],[2.42,-2.0],[2.6,-4.3]];
const pltSmooth = [[57,-2.4],[116,-1.4],[181,-0.6],[245,0.1],[288,0.4],[331,0.5],[385,1.4],[439,2.3],[493,3.5],[547,4.5],[601,5.1],[654,5.6],[762,6.9],[913,8.3]];
const gpdaSmooth = [[14.4,-2.2],[23.7,-1.2],[30.5,-1.0],[38.9,-0.9],[47.3,-0.2],[55.8,0.4],[62.5,0.95],[69.2,2.2],[77.7,3.4],[86.1,4.05],[96.2,4.6],[103,4.9],[111.4,5.6],[119.8,6.3],[130,7.0],[147.7,7.9]];
const albPltSmooth = [[1900,5.9],[4215,4.1],[6710,2.8],[8850,1.6],[10990,0.2],[13130,-1.55],[15270,-3.7],[17400,-5.0],[20260,-6.1],[22400,-7.4],[25250,-9.4],[30170,-12.7]];
const albGpdaSmooth = [[342,5.5],[825,4.6],[1263,2.4],[1702,0.6],[2140,-1.5],[2579,-3.9],[3105,-6.2],[3632,-8.3],[4333,-11.4],[5210,-15.2],[6088,-19.0],[7350,-24.9]];
const tcTcaSmooth = [[1.95,-9.05],[4.09,-5.2],[5.8,-2.1],[7.5,1.0],[9.2,4.0],[10.9,6.9],[12.66,10.0],[15.5,15.0]];
const pltGpdaSmooth = [[2390,-2.2],[5290,-1.5],[8520,-1.0],[11100,-0.8],[13680,0.0],[17550,0.8],[20770,1.6],[24000,2.75],[27870,3.9],[30450,4.6],[33030,5.2],[36900,6.1],[42060,7.2],[47230,8.7],[53550,9.8]];

// ticks and labels
const xTicks = [[20,30,40,50],[1,2,3,4,5,6],[1.2,1.4,1.6,1.8,2.0,2.2,2.4,2.6],[200,400,600,800],[20,40,60,80,100,120,140],[5000,10000,15000,20000,25000,30000],[1000,2000,3000,4000,5000,6000,7000],[2,4,6,8,10,12,14,16],[10000,20000,30000,40000,50000]];
const xLabels = [["20","30","40","50"],["1","2","3","4","5","6"],["1.2","1.4","1.6","1.8","2.0","2.2","2.4","2.6"],["200","400","600","800"],["20","40","60","80","100","120","140"],["5000","","15000","","25000",""],["1000","","3000","","5000","","7000"],["2","4","6","8","10","12","14","16"],["10000","","30000","","50000"]];
const yTicks = [[-20,-15,-10,-5,0,5,10],[-15,-10,-5,0,5,10,15],[-10,-5,0,5,10],[-10,-5,0,5,10,15],[-10,-5,0,5,10],[-15,-10,-5,0,5,10],[-20,-10,0,10],[-20,-10,0,10],[-10,-5,0,5,10]];
const yLabels = [["-20","-15","-10","-5","0","5","10"],["-15","","-5","0","5","10","15"],["-10","-5","0","5","10"],["-10","-5","0","5","10","15"],["-10","-5","0","5","10"],["-15","-10","-5","0","5","10"],["-20","-10","0","10"],["-20","-10","0","10"],["-10","-5","0","5","10"]];

const allPts = [albPts,tcPts,tcaPts,pltPts,gpdaPts,albPltPts,albGpdaPts,tcTcaPts,pltGpdaPts];
const allSmooth = [albSmooth,tcSmooth,tcaSmooth,pltSmooth,gpdaSmooth,albPltSmooth,albGpdaSmooth,tcTcaSmooth,pltGpdaSmooth];

// ---------------- DRAW ----------------
const colLeft = [71, 460, 843], panelW = 288;
const rowTop = [47, 343.5, 640], rowH = [217, 214.5, 215];
const svg = d3.select('#c');
const SVGW = 1129;
svg.append('text').attr('x', 578).attr('y', 27).attr('text-anchor', 'middle')
  .style('font-size', '25px').style('fill', '#111').text('Component + Residual Plots');

const pad = e => { const d = e[1] - e[0]; return [e[0] - 0.04 * d, e[1] + 0.04 * d]; };

allPts.forEach((pts, i) => {
  const c = i % 3, r = Math.floor(i / 3);
  const L = colLeft[c], T = rowTop[r], W = panelW, H = rowH[r];
  const x = d3.scaleLinear().domain(pad(d3.extent(pts, d => d[0]))).range([L, L + W]);
  const y = d3.scaleLinear().domain(pad(d3.extent(pts, d => d[1]))).range([T + H, T]);
  const cid = 'clip' + i;
  svg.append('clipPath').attr('id', cid).append('rect').attr('x', L).attr('y', T).attr('width', W).attr('height', H);
  const g = svg.append('g');
  const gg = g.append('g').attr('clip-path', `url(#${cid})`).attr('stroke', '#d6d6d6').attr('stroke-width', 1.5);
  gg.selectAll('line.gx').data(xTicks[i]).enter().append('line')
    .attr('x1', d => x(d)).attr('x2', d => x(d)).attr('y1', T).attr('y2', T + H);
  gg.selectAll('line.gy').data(yTicks[i]).enter().append('line')
    .attr('y1', d => y(d)).attr('y2', d => y(d)).attr('x1', L).attr('x2', L + W);
  g.append('g').selectAll('circle').data(pts).enter().append('circle')
    .attr('cx', d => x(d[0])).attr('cy', d => y(d[1])).attr('r', 3.3)
    .attr('fill', 'none').attr('stroke', '#000').attr('stroke-width', 1.15);
  const xd = x.domain();
  g.append('line').attr('clip-path', `url(#${cid})`)
    .attr('x1', x(xd[0])).attr('y1', y(lmIntercept[i] + lmSlope[i] * xd[0]))
    .attr('x2', x(xd[1])).attr('y2', y(lmIntercept[i] + lmSlope[i] * xd[1]))
    .attr('stroke', '#e0191e').attr('stroke-width', 2.6).attr('stroke-dasharray', '10,7');
  g.append('path').datum(allSmooth[i]).attr('clip-path', `url(#${cid})`)
    .attr('d', d3.line().x(d => x(d[0])).y(d => y(d[1])).curve(d3.curveMonotoneX))
    .attr('fill', 'none').attr('stroke', '#1db31d').attr('stroke-width', 2.6);
  g.append('rect').attr('x', L).attr('y', T).attr('width', W).attr('height', H)
    .attr('fill', 'none').attr('stroke', '#222').attr('stroke-width', 1.5);
  const xa = g.append('g').attr('transform', `translate(0,${T + H})`)
    .call(d3.axisBottom(x).tickValues(xTicks[i]).tickSize(9).tickFormat((d, j) => xLabels[i][j]));
  xa.select('.domain').remove();
  xa.selectAll('line').attr('stroke', '#222').attr('stroke-width', 1.5);
  xa.selectAll('text').attr('y', 19.5).attr('dy', '0.71em').attr('fill', '#222')
    .style('font-size', '15px').style('font-family', '"Liberation Sans", Arial, sans-serif');
  xa.selectAll('.tick').each(function () {
    const t = d3.select(this).select('text').node();
    if (!t || !t.textContent) return;
    const b = t.getBBox();
    const m = this.transform.baseVal.consolidate().matrix;
    const right = m.e + b.x + b.width;
    if (right > SVGW - 1) d3.select(t).attr('x', (SVGW - 1) - right);
  });
  const ya = g.append('g').attr('transform', `translate(${L},0)`)
    .call(d3.axisLeft(y).tickValues(yTicks[i]).tickSize(9).tickFormat((d, j) => yLabels[i][j]));
  ya.select('.domain').remove();
  ya.selectAll('line').attr('stroke', '#222').attr('stroke-width', 1.5);
  ya.selectAll('text').attr('x', 0).attr('dy', 0).attr('text-anchor', 'middle')
    .attr('transform', 'translate(-17,0) rotate(-90)').attr('fill', '#222')
    .style('font-size', '15px').style('font-family', '"Liberation Sans", Arial, sans-serif');
  svg.append('text').attr('x', L + W / 2).attr('y', T + H + 57).attr('text-anchor', 'middle')
    .style('font-size', '15px').text(titles[i]);
  svg.append('text').attr('transform', `translate(${L - 46},${T + H / 2}) rotate(-90)`)
    .attr('text-anchor', 'middle').style('font-size', '14.5px').text('Component+Residual(Disease)');
});
</script>
</body></html>
